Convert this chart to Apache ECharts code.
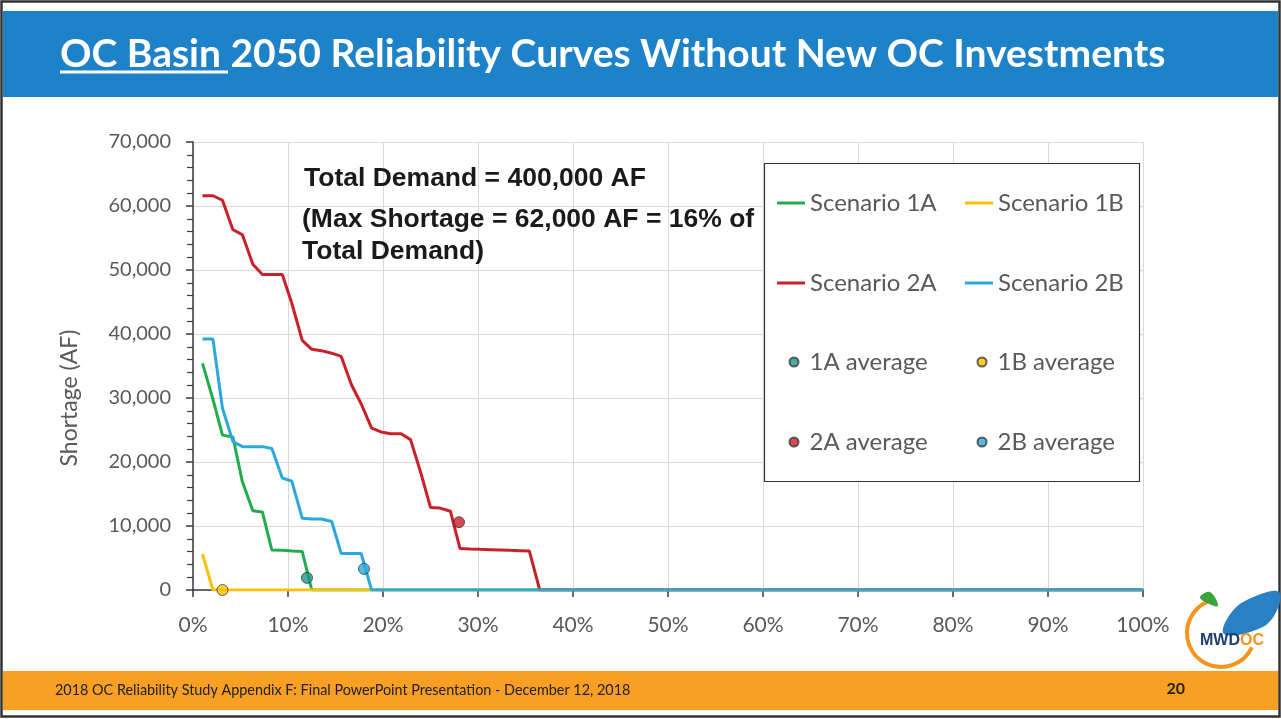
<!DOCTYPE html>
<html>
<head>
<meta charset="utf-8">
<title>OC Basin 2050 Reliability Curves</title>
<script src="https://cdn.jsdelivr.net/npm/echarts@6/dist/echarts.min.js"></script>
<style>
  html, body { margin: 0; padding: 0; background: #ffffff; }
  #chart { width: 1281px; height: 719px; }
</style>
</head>
<body>
<div id="chart"></div>
<script>
// Exceedance probability (% of years) for each ranked point, shared by all scenarios
const exceedancePct = [1.0, 2.1, 3.1, 4.2, 5.2, 6.3, 7.3, 8.3, 9.4, 10.4, 11.5, 12.5,
  13.5, 14.6, 15.6, 16.7, 17.7, 18.8, 19.8, 20.8, 21.9, 22.9, 24.0, 25.0, 26.0, 27.1,
  28.1, 29.2, 30.2, 31.3, 32.3, 33.3, 34.4, 35.4, 36.5, 100];

// Shortage (AF) per scenario at each exceedance point
const scenario1A = [35400, 29800, 24200, 23900, 16900, 12400, 12200, 6250, 6200, 6100, 6000, 0,
  0, 0, 0, 0, 0, 0, 0, 0, 0, 0, 0, 0, 0, 0, 0, 0, 0, 0, 0, 0, 0, 0, 0, 0];
const scenario1B = [5600, 0, 0, 0, 0, 0, 0, 0, 0, 0, 0, 0,
  0, 0, 0, 0, 0, 0, 0, 0, 0, 0, 0, 0, 0, 0, 0, 0, 0, 0, 0, 0, 0, 0, 0, 0];
const scenario2A = [61600, 61600, 60900, 56300, 55500, 50900, 49300, 49300, 49300, 44800, 39000, 37600,
  37400, 37000, 36500, 32000, 29100, 25300, 24700, 24400, 24400, 23500, 18200, 12900, 12800, 12300,
  6500, 6400, 6350, 6300, 6250, 6200, 6150, 6100, 0, 0];
const scenario2B = [39200, 39200, 28400, 23200, 22400, 22400, 22400, 22100, 17500, 17000, 11200, 11100,
  11100, 10700, 5700, 5700, 5700, 0, 0, 0, 0, 0, 0, 0, 0, 0, 0, 0, 0, 0, 0, 0, 0, 0, 0, 0];

// Average shortage markers: [exceedance %, shortage AF]
const avg1A = [12.0, 1900];
const avg1B = [3.1, 0];
const avg2A = [28.0, 10600];
const avg2B = [18.0, 3300];

// Axis ticks
const xTicks = [0, 10, 20, 30, 40, 50, 60, 70, 80, 90, 100];
const yTicks = [0, 10000, 20000, 30000, 40000, 50000, 60000, 70000];

const lineNames = ['Scenario 1A', 'Scenario 1B', 'Scenario 2A', 'Scenario 2B'];
const avgNames = ['1A average', '1B average', '2A average', '2B average'];

const titleText = 'OC Basin 2050 Reliability Curves Without New OC Investments';
const noteLines = ['Total Demand = 400,000 AF', '(Max Shortage = 62,000 AF = 16% of', 'Total Demand)'];
const footerText = '2018 OC Reliability Study Appendix F: Final PowerPoint Presentation - December 12, 2018';
const pageNumber = '20';

const GREEN = '#21ad4b';
const YELLOW = '#ffc000';
const RED = '#c9202a';
const BLUE = '#2aa9e0';
const TEAL = '#1a968e';
const GREY_TEXT = '#595959';

function pairs(values) {
  return values.map((v, i) => [exceedancePct[i], v]);
}

function lineSeries(name, values, color) {
  return {
    name: name,
    type: 'line',
    data: pairs(values),
    symbol: 'none',
    lineStyle: { color: color, width: 3 },
    itemStyle: { color: color },
    z: 2,
    animation: false
  };
}

function avgSeries(name, point, color) {
  return {
    name: name,
    type: 'scatter',
    data: [point],
    symbol: 'circle',
    symbolSize: 11,
    itemStyle: { color: color, borderColor: '#3a3a3a', borderWidth: 1 },
    z: 5,
    animation: false
  };
}

// Two-row legend column; line keys are short bars, average keys are dots
function legendBlock(left, top, names, isDot) {
  return {
    orient: 'vertical',
    left: left,
    top: top,
    padding: 0,
    itemGap: 54,
    itemWidth: isDot ? 9 : 28,
    itemHeight: isDot ? 9 : 3,
    selectedMode: false,
    data: names.map(n => ({ name: n, icon: isDot ? 'circle' : 'rect' })),
    textStyle: {
      color: GREY_TEXT, fontFamily: 'Lato', fontSize: 24, lineHeight: 26,
      padding: isDot ? [0, 0, 0, 6] : 0
    },
    z: 6
  };
}

const chart = echarts.init(document.getElementById('chart'), null, { renderer: 'canvas' });

const option = {
  backgroundColor: '#ffffff',
  animation: false,
  grid: { left: 193, right: 138, top: 142, bottom: 129 },
  xAxis: {
    type: 'value',
    min: xTicks[0],
    max: xTicks[xTicks.length - 1],
    interval: xTicks[1] - xTicks[0],
    axisLine: { show: true, lineStyle: { color: '#3a3a3a', width: 1.5 } },
    axisTick: { show: true, length: 7, lineStyle: { color: '#3a3a3a', width: 1.5 } },
    axisLabel: {
      formatter: '{value}%', color: GREY_TEXT, fontFamily: 'Lato', fontSize: 21, margin: 25
    },
    splitLine: { show: true, lineStyle: { color: '#d9d9d9', width: 1 } }
  },
  yAxis: {
    type: 'value',
    min: yTicks[0],
    max: yTicks[yTicks.length - 1],
    interval: yTicks[1] - yTicks[0],
    name: 'Shortage (AF)',
    nameLocation: 'middle',
    nameGap: 112,
    nameTextStyle: { color: GREY_TEXT, fontFamily: 'Lato', fontSize: 23, padding: [0, 64, 0, 0] },
    axisLine: { show: true, lineStyle: { color: '#3a3a3a', width: 1.5 } },
    axisTick: { show: true, length: 7, lineStyle: { color: '#3a3a3a', width: 1.5 } },
    minorTick: { show: true, splitNumber: 5, length: 6, lineStyle: { color: '#3a3a3a', width: 1.2 } },
    axisLabel: {
      formatter: v => v.toLocaleString('en-US'),
      color: GREY_TEXT, fontFamily: 'Lato', fontSize: 20, margin: 22
    },
    splitLine: { show: true, lineStyle: { color: '#d9d9d9', width: 1 } }
  },
  legend: [
    legendBlock(777, 190, [lineNames[0], lineNames[2]], false),
    legendBlock(965, 190, [lineNames[1], lineNames[3]], false),
    legendBlock(788.5, 349, [avgNames[0], avgNames[2]], true),
    legendBlock(976.5, 349, [avgNames[1], avgNames[3]], true)
  ],
  series: [
    lineSeries(lineNames[0], scenario1A, GREEN),
    lineSeries(lineNames[1], scenario1B, YELLOW),
    lineSeries(lineNames[2], scenario2A, RED),
    lineSeries(lineNames[3], scenario2B, BLUE),
    avgSeries(avgNames[0], avg1A, TEAL),
    avgSeries(avgNames[1], avg1B, YELLOW),
    avgSeries(avgNames[2], avg2A, RED),
    avgSeries(avgNames[3], avg2B, BLUE)
  ],
  graphic: {
    elements: [
      // slide frame
      { type: 'rect', z: 0, silent: true,
        shape: { x: 1.5, y: 1.5, width: 1278, height: 715 },
        style: { fill: 'none', stroke: '#333333', lineWidth: 2.5 } },
      // title banner
      { type: 'rect', z: 0, silent: true,
        shape: { x: 3, y: 11, width: 1275, height: 86 },
        style: { fill: '#1e82c8' } },
      { type: 'text', z: 1, silent: true, x: 60, y: 54,
        style: { text: titleText, fill: '#ffffff', font: 'bold 39px Lato', textVerticalAlign: 'middle' } },
      { type: 'line', z: 1, silent: true,
        shape: { x1: 60, y1: 72, x2: 228, y2: 72 },
        style: { stroke: '#ffffff', lineWidth: 3 } },
      // legend frame
      { type: 'rect', z: 3, silent: true,
        shape: { x: 764.5, y: 163.5, width: 375, height: 318 },
        style: { fill: '#ffffff', stroke: '#333333', lineWidth: 1.2 } },
      // demand note
      { type: 'text', z: 4, silent: true, x: 304, y: 179,
        style: { text: noteLines[0], fill: '#1a1a1a', font: 'bold 26.5px "Liberation Sans"', textVerticalAlign: 'middle' } },
      { type: 'text', z: 4, silent: true, x: 302, y: 220,
        style: { text: noteLines[1], fill: '#1a1a1a', font: 'bold 26.5px "Liberation Sans"', textVerticalAlign: 'middle' } },
      { type: 'text', z: 4, silent: true, x: 302, y: 252,
        style: { text: noteLines[2], fill: '#1a1a1a', font: 'bold 26.5px "Liberation Sans"', textVerticalAlign: 'middle' } },
      // footer band
      { type: 'rect', z: 0, silent: true,
        shape: { x: 3, y: 671, width: 1275, height: 39 },
        style: { fill: '#f89f24' } },
      { type: 'text', z: 1, silent: true, x: 55, y: 690,
        style: { text: footerText, fill: '#222222', font: '14.4px Lato', textVerticalAlign: 'middle' } },
      { type: 'text', z: 1, silent: true, x: 1185, y: 689,
        style: { text: pageNumber, fill: '#222222', font: 'bold 16px Lato', textAlign: 'right', textVerticalAlign: 'middle' } },
      // MWDOC logo
      { type: 'arc', z: 1, silent: true,
        shape: { cx: 1221, cy: 633, r: 34, startAngle: 25 * Math.PI / 180, endAngle: 246 * Math.PI / 180, clockwise: true },
        style: { fill: 'none', stroke: '#f7941d', lineWidth: 4 } },
      { type: 'polygon', z: 1, silent: true,
        shape: { points: [[1200, 597], [1210, 592], [1218, 606], [1207, 603]], smooth: 0.4 },
        style: { fill: '#3da33f' } },
      { type: 'polygon', z: 1, silent: true,
        shape: { points: [[1224, 634], [1231, 613], [1251, 598], [1279, 592], [1274, 616], [1256, 630]], smooth: 0.4 },
        style: { fill: '#2b7fc3' } },
      { type: 'text', z: 2, silent: true, x: 1232, y: 641,
        style: {
          text: '{a|MWD}{b|OC}',
          textAlign: 'center', textVerticalAlign: 'middle',
          rich: {
            a: { fill: '#1d3f6e', font: 'bold 16px "Liberation Sans"' },
            b: { fill: '#f7941d', font: 'bold 16px "Liberation Sans"' }
          }
        } }
    ]
  }
};

chart.setOption(option);
</script>
</body>
</html>
